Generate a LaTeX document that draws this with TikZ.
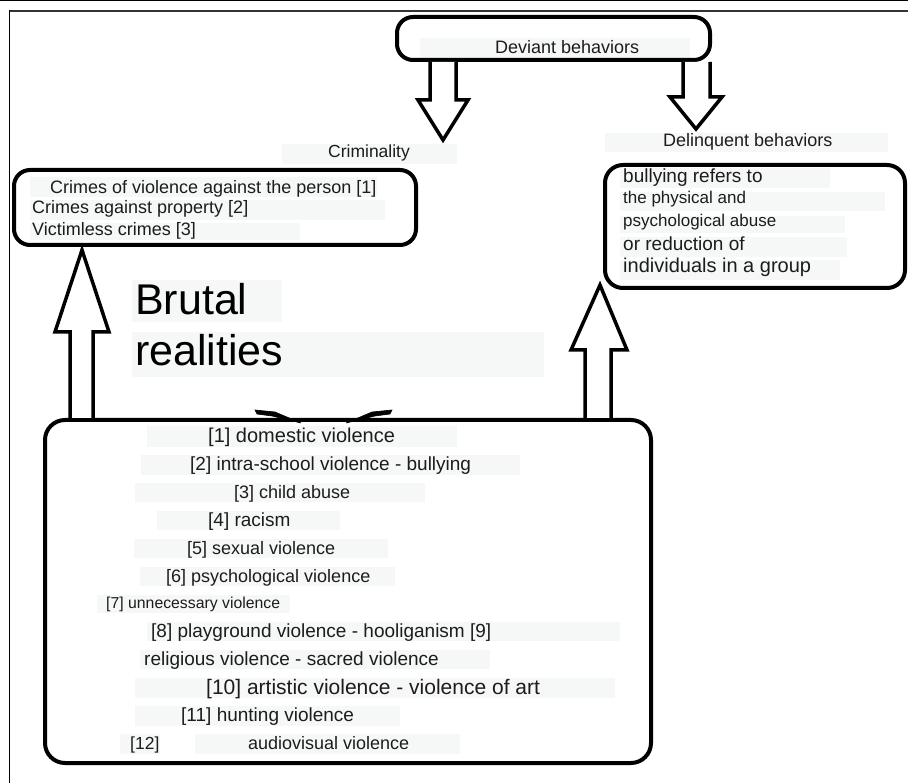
\documentclass[tikz,border=0pt]{standalone}
\usepackage{fontspec}
\setmainfont{Liberation Sans}
\usetikzlibrary{arrows.meta}
\definecolor{bgf}{RGB}{246,248,247}
\definecolor{txt}{RGB}{28,28,28}
\newcommand{\myfs}[1]{\fontsize{#1}{#1}\selectfont}
\tikzset{
  boxn/.style={draw=black, line width=4pt, inner sep=0pt},
  hollow/.style={draw=black, line width=3.5pt, fill=white, line join=miter},
  lbl/.style={anchor=base west, inner sep=0pt, text=txt},
  bgr/.style={fill=bgf, draw=none},
  wedge/.style={fill=black, draw=black, line width=0.6pt},
}
\begin{document}
\begin{tikzpicture}[x=1pt, y=-1pt]
\useasboundingbox (0,0) rectangle (908,783);
% frame
\draw[line width=1pt] (0,0.5) -- (908,0.5);
\draw[line width=2.5pt, black!80] (9,11) -- (908,11);
\draw[line width=1.5pt] (9.5,10) -- (9.5,783);

% faint text backgrounds
\fill[bgr] (420,38) rectangle (690,58);
\fill[bgr] (282,144) rectangle (457,164);
\fill[bgr] (605,133) rectangle (888,152);
\fill[bgr] (30,177) rectangle (377,197);
\fill[bgr] (30,200) rectangle (385,220);
\fill[bgr] (30,223) rectangle (300,240);
\fill[bgr] (620,168) rectangle (830,188);
\fill[bgr] (620,192) rectangle (885,211);
\fill[bgr] (620,216) rectangle (845,233);
\fill[bgr] (620,237) rectangle (847,257);
\fill[bgr] (620,260) rectangle (840,280);
\fill[bgr] (132,280) rectangle (282,322);
\fill[bgr] (132,332) rectangle (544,377);
\fill[bgr] (147,426) rectangle (457,447);
\fill[bgr] (141,455) rectangle (520,475);
\fill[bgr] (135,483) rectangle (425,502);
\fill[bgr] (157,511) rectangle (340,530);
\fill[bgr] (134,539) rectangle (388,558);
\fill[bgr] (140,567) rectangle (395,586);
\fill[bgr] (97,595) rectangle (290,613);
\fill[bgr] (147,622) rectangle (620,641);
\fill[bgr] (140,650) rectangle (490,669);
\fill[bgr] (135,678) rectangle (615,698);
\fill[bgr] (135,706) rectangle (400,726);
\fill[bgr] (120,734) rectangle (160,754);
\fill[bgr] (195,734) rectangle (460,754);

% boxes
\node[boxn, rounded corners=16pt, minimum width=313pt, minimum height=43pt] (dev) at (553.5,38.5) {};
\node[boxn, rounded corners=16pt, minimum width=402pt, minimum height=75pt] (crim) at (215,207.5) {};
\node[boxn, rounded corners=18pt, minimum width=300pt, minimum height=123pt] (delq) at (755,226.5) {};
\node[boxn, rounded corners=20pt, minimum width=606pt, minimum height=343pt] (real) at (348,591.5) {};

% hollow arrows
\draw[hollow] (430,62) -- (430,100) -- (418,100) -- (443,140) -- (468,100) -- (456,100) -- (456,62);
\draw[hollow] (683,62) -- (683,97) -- (670,97) -- (696,129) -- (722,97) -- (710,97) -- (710,62);
\draw[hollow] (70,418) -- (70,332) -- (55,332) -- (82,250) -- (109,332) -- (93,332) -- (93,418);
\draw[hollow] (585,418) -- (585,350) -- (571,350) -- (600,285) -- (627,350) -- (611,350) -- (611,418);

% small wedges on top edge
\fill[wedge] (255,410) -- (275,412) -- (301,423) -- (272,416) -- (257,414) -- cycle;
\fill[wedge] (392,410) -- (372,412) -- (346,423) -- (375,416) -- (390,414) -- cycle;

% texts
\node[lbl] (tdev) at (495,54) {\myfs{18}Deviant behaviors};
\node[lbl] (tcrim) at (328,158) {\myfs{17.5}Criminality};
\node[lbl] (tdelq) at (663,147) {\myfs{18}Delinquent behaviors};

\node[lbl] (c1) at (50,194) {\myfs{18}Crimes of violence against the person [1]};
\node[lbl] (c2) at (32,214) {\myfs{18}Crimes against property [2]};
\node[lbl] (c3) at (32,236) {\myfs{18}Victimless crimes [3]};

\node[lbl] (d1) at (623,183) {\myfs{19}bullying refers to};
\node[lbl] (d2) at (623,204) {\myfs{17}the physical and};
\node[lbl] (d3) at (623,227) {\myfs{17}psychological abuse};
\node[lbl] (d4) at (623,251) {\myfs{19}or reduction of};
\node[lbl] (d5) at (623,273) {\myfs{20}individuals in a group};

\node[lbl, text=black] (b1) at (135,315) {\myfs{43}Brutal};
\node[lbl, text=black] (b2) at (135,366) {\myfs{43}realities};

\node[lbl] (r1) at (208,443) {\myfs{20}[1] domestic violence};
\node[lbl] (r2) at (190,471) {\myfs{19}[2] intra-school violence - bullying};
\node[lbl] (r3) at (234,498) {\myfs{18}[3] child abuse};
\node[lbl] (r4) at (208,526) {\myfs{19}[4] racism};
\node[lbl] (r5) at (187,554) {\myfs{18}[5] sexual violence};
\node[lbl] (r6) at (166,582) {\myfs{18}[6] psychological violence};
\node[lbl] (r7) at (106,608) {\myfs{15.8}[7] unnecessary violence};
\node[lbl] (r8) at (151,637) {\myfs{19}[8] playground violence - hooliganism [9]};
\node[lbl] (r9) at (144,665) {\myfs{19}religious violence - sacred violence};
\node[lbl] (r10) at (206,694) {\myfs{21}[10] artistic violence - violence of art};
\node[lbl] (r11) at (181,721) {\myfs{19}[11] hunting violence};
\node[lbl] (r12) at (130,749) {\myfs{17.5}[12]};
\node[lbl] (r12b) at (248,749) {\myfs{18}audiovisual violence};
\end{tikzpicture}
\end{document}
